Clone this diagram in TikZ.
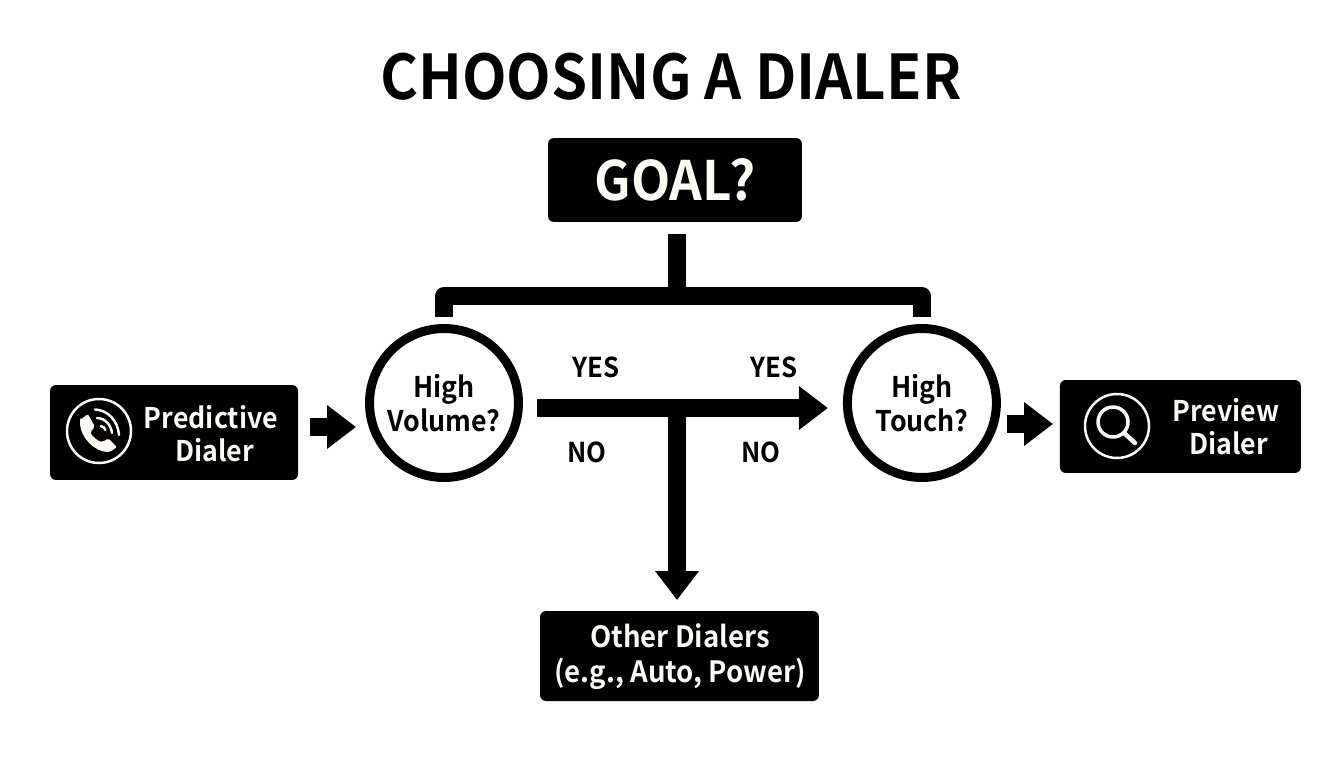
\documentclass[tikz,border=0pt]{standalone}
\usepackage{fontspec}
\setmainfont{Noto Sans CJK SC}[BoldFont={Noto Sans CJK SC Bold}, BoldFeatures={FakeStretch=0.94}]
\usetikzlibrary{positioning}
\usetikzlibrary{arrows.meta}
\definecolor{boxink}{HTML}{FBFAF4}
\tikzstyle{darkbox} = [fill=black, rounded corners=0.12cm, inner sep=0pt, outer sep=0pt]
\tikzstyle{boxtext} = [text=boxink, font=\bfseries\fontsize{16.2}{18.8}\selectfont, align=center, inner sep=0pt]
\tikzstyle{decision} = [draw, circle, line width=0.18cm, minimum size=2.98cm, inner sep=0pt, align=center, font=\bfseries\fontsize{16.2}{19.2}\selectfont]
\tikzstyle{flowline} = [line width=0.36cm, line join=round]
\tikzstyle{flowarrow} = [line width=0.36cm, -{Triangle[length=0.58cm, width=0.84cm]}]
\tikzstyle{answer} = [inner sep=0pt, font=\bfseries\fontsize{15.6}{18}\selectfont]
\tikzstyle{iconline} = [draw=boxink, line width=0.05cm, line cap=round]

\begin{document}
\begin{tikzpicture}[x=0.02cm, y=-0.02cm]
    \useasboundingbox (0,0) rectangle (1344,768);

    % Title and goal
    \node[inner sep=0pt, font=\bfseries\fontsize{35.1}{40}\selectfont] (title) at (671,77) {CHOOSING A DIALER};
    \node[darkbox, minimum width=5.08cm, minimum height=1.68cm, text=boxink, font=\bfseries\fontsize{30.9}{36}\selectfont] (goal) at (675,180) {GOAL?};

    % Decisions
    \node[decision] (volume) at (444,403) {High\\Volume?};
    \node[decision, right=6.4cm of volume] (touch) {High\\Touch?};

    % Outcomes
    \node[darkbox, minimum width=4.96cm, minimum height=1.9cm, left=1.34cm of volume, yshift=-0.59cm] (predictive) {};
    \node[darkbox, minimum width=4.82cm, minimum height=1.86cm, right=1.18cm of touch, yshift=-0.47cm] (preview) {};
    \node[darkbox, minimum width=5.58cm, minimum height=1.8cm] (other) at (679.5,656) {};
    \node[boxtext] (predictivetext) at (211,434) {Predictive\\\hspace{0.14cm}Dialer};
    \node[boxtext] (previewtext) at (1226,427) {Preview\\\hspace{0.1cm}Dialer};
    \node[boxtext, font=\bfseries\fontsize{16.7}{19.8}\selectfont] (othertext) at (680,657) {Other Dialers\\(e.g., Auto, Power)};

    % Junction points
    \coordinate (trunk) at (677,296);
    \coordinate (split) at (677,408);
    \coordinate (predin) at (356,427);
    \coordinate (previewin) at (1053,424);

    % Connectors
    \draw[flowline, shorten <=0.24cm] (goal.south -| trunk) -- (trunk);
    \draw[flowline, shorten <=0.14cm, shorten >=0.14cm] (volume.north) -- (volume.north |- trunk) -- (touch.north |- trunk) -- (touch.north);
    \draw[flowarrow, shorten <=0.28cm, shorten >=0.3cm] (volume.east |- split) -- (touch.west |- split);
    \draw[flowarrow, shorten >=0.22cm] (split) -- (other.north -| split);
    \draw[flowarrow, shorten <=0.24cm] (predictive.east |- predin) -- (predin);
    \draw[flowarrow, shorten <=0.12cm] (touch.east |- previewin) -- (previewin);

    % Answers
    \node[answer] (yesleft) at (596,367) {YES};
    \node[answer] (yesright) at (774,367) {YES};
    \node[answer] (noleft) at (587,452) {NO};
    \node[answer] (noright) at (761,452) {NO};

    % Phone icon
    \draw[iconline] (99,431) circle [radius=32];
    \fill[boxink, rounded corners=0.04cm] (80,420) -- (88,414) -- (95,427) -- (90,432) .. controls (93,437) and (98,441) .. (103,442) -- (108,438) -- (117,447) -- (110,452) .. controls (95,452) and (80,438) .. (80,420) -- cycle;
    \draw[iconline] (95,409.5) .. controls (108,410) and (118,421) .. (119,435);
    \draw[iconline] (97,418) .. controls (105,418) and (111,425) .. (112,433);
    \draw[iconline] (101,426) .. controls (103,426.5) and (105,428) .. (105.5,430);

    % Magnifier icon
    \draw[iconline] (1117,426) circle [radius=32];
    \draw[iconline, line width=0.07cm] (1113,422) circle [radius=15];
    \draw[iconline, line width=0.09cm] (1124,433) -- (1135,443);
\end{tikzpicture}
\end{document}
